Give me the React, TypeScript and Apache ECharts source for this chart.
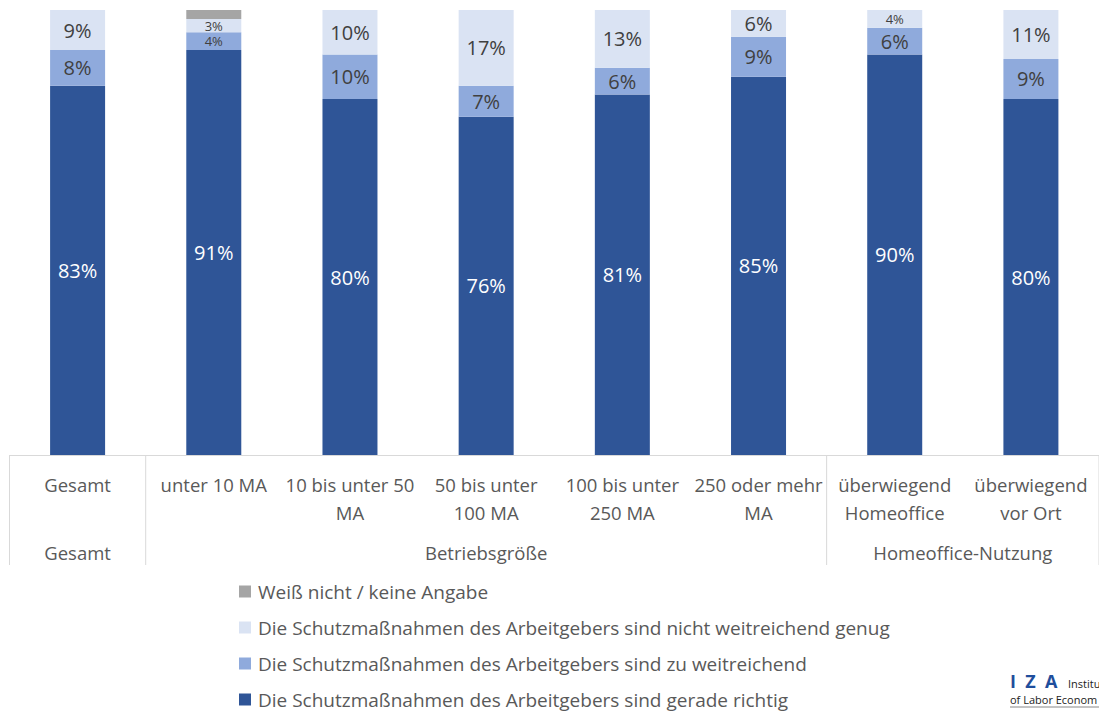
import React, { useEffect, useRef } from "react";
import * as echarts from "echarts";

const categories = [
  "Gesamt",
  "unter 10 MA",
  "10 bis unter 50\nMA",
  "50 bis unter\n100 MA",
  "100 bis unter\n250 MA",
  "250 oder mehr\nMA",
  "überwiegend\nHomeoffice",
  "überwiegend\nvor Ort",
];
const groupNames = ["Gesamt", "Betriebsgröße", "Homeoffice-Nutzung"];
const groupStart = [0, 1, 6];
const groupEnd = [0, 5, 7];

const seriesNames = [
  "Die Schutzmaßnahmen des Arbeitgebers sind gerade richtig",
  "Die Schutzmaßnahmen des Arbeitgebers sind zu weitreichend",
  "Die Schutzmaßnahmen des Arbeitgebers sind nicht weitreichend genug",
  "Weiß nicht / keine Angabe",
];
const geradeRichtig = [83, 91, 80, 76, 81, 85, 90, 80];
const zuWeitreichend = [8, 4, 10, 7, 6, 9, 6, 9];
const nichtGenug = [9, 3, 10, 17, 13, 6, 4, 11];
const weissNicht = [0, 2, 0, 0, 0, 0, 0, 0];

const FONT = "'Open Sans', 'Noto Sans', sans-serif";
const colors = ["#2F5597", "#8FAADC", "#DAE3F3", "#A5A5A5"];

function labeled(values: number[]) {
  return values.map((v) => ({
    value: v,
    label: v <= 4 ? { fontSize: 13, lineHeight: 13 } : {},
  }));
}

export default function App() {
  const ref = useRef<HTMLDivElement>(null);
  useEffect(() => {
    if (!ref.current) return;
    const chart = echarts.init(ref.current, null, { renderer: "svg" });
    const mkLabel = (color: string) => ({
      show: true,
      position: "inside",
      color,
      fontSize: 20,
      fontFamily: FONT,
      formatter: (p: any) => (p.value ? p.value + "%" : ""),
    });
    const dataSets = [geradeRichtig, zuWeitreichend, nichtGenug, weissNicht];
    const labelColors = ["#FFFFFF", "#404040", "#404040", "#404040"];
    chart.setOption({
      animation: false,
      grid: { left: 9.5, top: 10, width: 1096, height: 445, containLabel: false },
      legend: {
        orient: "vertical",
        left: 239,
        top: 581,
        height: 130,
        padding: 0,
        itemWidth: 12,
        itemHeight: 12,
        itemGap: 15,
        icon: "rect",
        data: [seriesNames[3], seriesNames[2], seriesNames[1], seriesNames[0]],
        textStyle: { fontSize: 19, color: "#595959", fontFamily: FONT, lineHeight: 21, padding: [0, 0, 0, 2] },
      },
      xAxis: {
        type: "category",
        data: categories,
        axisLine: { show: true, lineStyle: { color: "#D9D9D9", width: 1 } },
        axisTick: { show: false },
        axisLabel: {
          interval: 0,
          margin: 15,
          fontSize: 18.5,
          lineHeight: 28,
          color: "#595959",
          fontFamily: FONT,
        },
      },
      yAxis: { type: "value", min: 0, max: 100, show: false, splitLine: { show: false } },
      series: dataSets.map((d, i) => ({
        name: seriesNames[i],
        type: "bar",
        stack: "total",
        barWidth: 55,
        itemStyle: { color: colors[i] },
        label: i === 3 ? { show: false } : mkLabel(labelColors[i]),
        data: labeled(d),
      })),
    });

    const px = (i: number) => chart.convertToPixel({ xAxisIndex: 0 }, i) as number;
    const half = (px(1) - px(0)) / 2;
    const yTop = 455;
    const yBot = 565;
    const graphics: any[] = [];
    const bounds = [px(0) - half, px(1) - half, px(6) - half, px(7) + half];
    bounds.forEach((x) =>
      graphics.push({
        type: "line",
        shape: { x1: x, y1: yTop, x2: x, y2: yBot },
        style: { stroke: "#D9D9D9", lineWidth: 1 },
      })
    );
    groupNames.forEach((g, i) => {
      const cx = (px(groupStart[i]) + px(groupEnd[i])) / 2;
      graphics.push({
        type: "text",
        x: cx,
        y: 552,
        style: {
          text: g,
          fill: "#595959",
          font: `18.5px ${FONT}`,
          align: "center",
          verticalAlign: "middle",
        },
      });
    });
    // IZA logo (cut off at the right edge, as in the reference)
    graphics.push({
      type: "text",
      x: 1010,
      y: 681,
      style: { text: "I  Z  A", fill: "#1F4E9C", font: `bold 18px ${FONT}`, verticalAlign: "middle" },
    });
    graphics.push({
      type: "text",
      x: 1068,
      y: 683,
      style: { text: "Institu", fill: "#222222", font: `11px ${FONT}`, verticalAlign: "middle" },
    });
    graphics.push({
      type: "text",
      x: 1010,
      y: 699,
      style: { text: "of Labor Econom", fill: "#222222", font: `11px ${FONT}`, verticalAlign: "middle" },
    });
    graphics.push({
      type: "line",
      shape: { x1: 1010, y1: 707, x2: 1099, y2: 707 },
      style: { stroke: "#888888", lineWidth: 1 },
    });
    chart.setOption({ graphic: graphics });
    return () => chart.dispose();
  }, []);
  return (
    <div
      ref={ref}
      style={{ position: "fixed", left: 0, top: 0, width: 1099, height: 711, background: "#fff" }}
    />
  );
}
